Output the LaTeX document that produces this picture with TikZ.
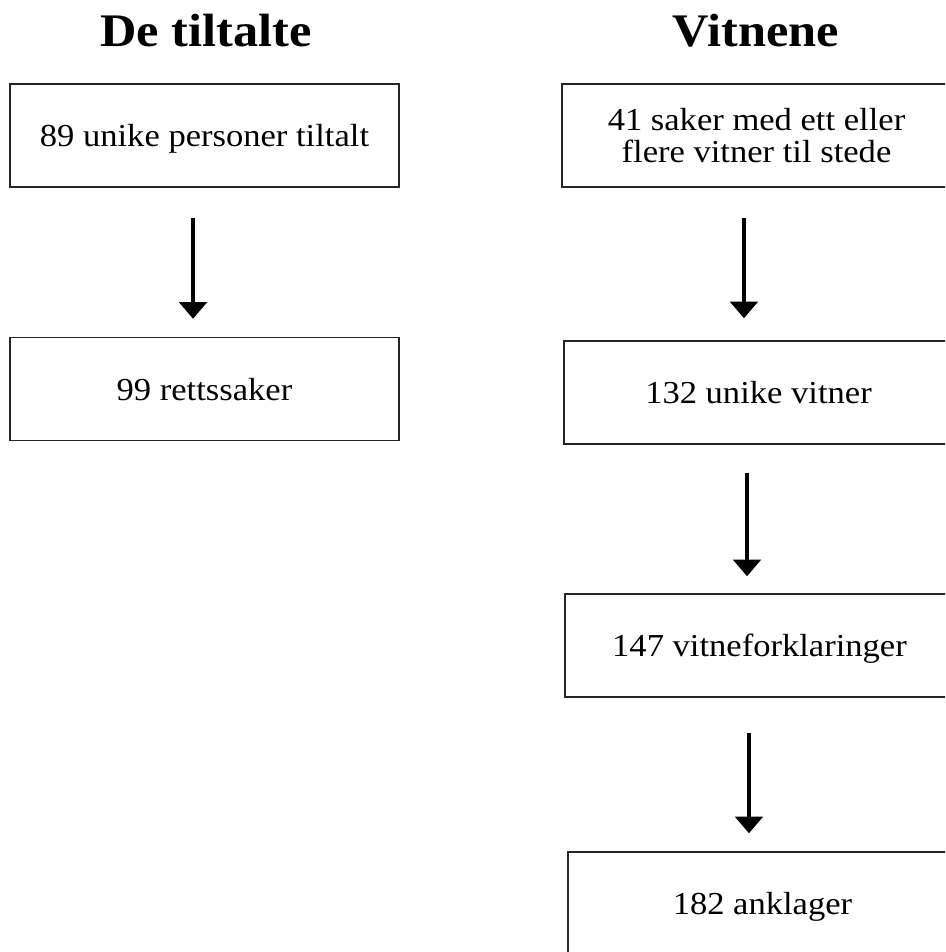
\documentclass[tikz,border=0pt]{standalone}
\usepackage{fontspec}
\setmainfont[FakeStretch=1.08]{Liberation Serif}
\usetikzlibrary{arrows.meta}
\begin{document}
\begin{tikzpicture}[x=0.75pt,y=-0.75pt,
  box/.style={draw=black!85, line width=1.1pt, rectangle, minimum width=291.75pt, minimum height=77.25pt,
    inner sep=0pt, align=center, text depth=0pt, font=\fontsize{24pt}{23.8pt}\selectfont},
  title/.style={font=\fontsize{35pt}{40pt}\selectfont\bfseries, inner sep=0pt},
  arr/.style={line width=3.2pt, -{Triangle[width=20.5pt,length=12.5pt]}}]
\useasboundingbox (0,0) rectangle (945,952);
\clip (0,0) rectangle (945,952);
% titles
\node[title, anchor=base] (tL) at (206,47) {De tiltalte};
\node[title, anchor=base] (tR) at (756,47) {Vitnene};
% left column
\node[box] (L1) at (204.5,135.5) {89 unike personer tiltalt};
\node[box] (L2) at (204.5,389) {99 rettssaker};
% right column
\node[box] (R1) at (756.5,135.5) {41 saker med ett eller\\flere vitner til stede};
\node[box] (R2) at (758.5,392.5) {132 unike vitner};
\node[box] (R3) at (759.5,645.5) {147 vitneforklaringer};
\node[box] (R4) at (762.5,903.5) {182 anklager};
% arrow columns
\coordinate (a0) at ([xshift=-8.6pt]L1.south);
\coordinate (a1) at ([xshift=-9.4pt]R1.south);
\coordinate (a2) at ([xshift=-8.6pt]R2.south);
\coordinate (a3) at ([xshift=-7.9pt]R3.south);
% arrows
\draw[arr] ([yshift=-22.5pt]a0) -- ([yshift=13.5pt]a0 |- L2.north);
\draw[arr] ([yshift=-22.5pt]a1) -- ([yshift=16.5pt]a1 |- R2.north);
\draw[arr] ([yshift=-21.5pt]a2) -- ([yshift=12.75pt]a2 |- R3.north);
\draw[arr] ([yshift=-26.25pt]a3) -- ([yshift=13.5pt]a3 |- R4.north);
\end{tikzpicture}
\end{document}
